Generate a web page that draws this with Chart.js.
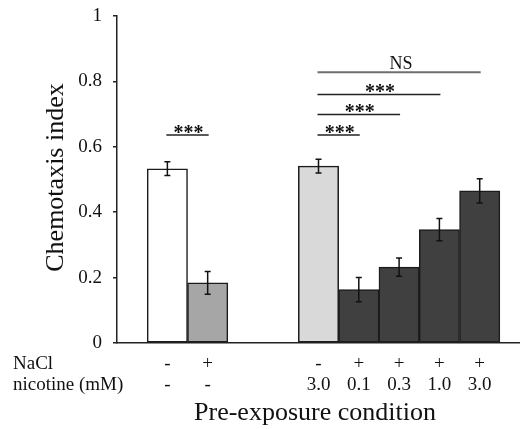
<!DOCTYPE html>
<html>
<head>
<meta charset="utf-8">
<script src="https://cdn.jsdelivr.net/npm/chart.js@4.4.1/dist/chart.umd.min.js"></script>
<style>
  html, body { margin: 0; padding: 0; background: #fff; }
  canvas { display: block; }
</style>
</head>
<body>
<canvas id="chart" width="520" height="429"></canvas>
<script>
// bars: NaCl-only group, then the nicotine group (x in slot units)
const xPos = [1.25, 2.25, 5, 6, 7, 8, 9];
const values = [0.533, 0.184, 0.541, 0.163, 0.232, 0.347, 0.465];
const errors = [0.021, 0.035, 0.021, 0.037, 0.028, 0.034, 0.037];
const naclRow = ['-', '+', '-', '+', '+', '+', '+'];
const nicotineRow = ['-', '-', '3.0', '0.1', '0.3', '1.0', '3.0'];
const yTicks = [0, 0.2, 0.4, 0.6, 0.8, 1];

// significance brackets (bar index from/to, height in chemotaxis index)
const bracketFrom = [0, 2, 2, 2, 2];
const bracketTo = [1, 3, 4, 5, 6];
const bracketY = [0.636, 0.636, 0.699, 0.760, 0.828];
const bracketText = ['***', '***', '***', '***', 'NS'];

const barColors = ['#ffffff', '#a6a6a6', '#d9d9d9', '#404040', '#404040', '#404040', '#404040'];
const SERIF = "'Liberation Serif', 'Times New Roman', serif";

const annotations = {
  id: 'annotations',
  afterDatasetsDraw(chart) {
    const ctx = chart.ctx;
    const xs = chart.scales.x, ys = chart.scales.y;
    const area = chart.chartArea;
    ctx.save();

    // error bars
    ctx.strokeStyle = '#111';
    ctx.lineWidth = 1.5;
    values.forEach((v, i) => {
      const x = xs.getPixelForValue(xPos[i]);
      const top = ys.getPixelForValue(v + errors[i]);
      const bot = ys.getPixelForValue(v - errors[i]);
      ctx.beginPath();
      ctx.moveTo(x, top); ctx.lineTo(x, bot);
      ctx.moveTo(x - 3, top); ctx.lineTo(x + 3, top);
      ctx.moveTo(x - 3, bot); ctx.lineTo(x + 3, bot);
      ctx.stroke();
    });

    // brackets
    bracketText.forEach((t, i) => {
      const x1 = xs.getPixelForValue(xPos[bracketFrom[i]]);
      const x2 = xs.getPixelForValue(xPos[bracketTo[i]]);
      const y = ys.getPixelForValue(bracketY[i]);
      const ns = t === 'NS';
      ctx.strokeStyle = ns ? '#6f6f6f' : '#222';
      ctx.lineWidth = ns ? 2.2 : 1.6;
      ctx.beginPath();
      ctx.moveTo(x1 - 1, y); ctx.lineTo(x2 + 1, y);
      ctx.stroke();
      ctx.fillStyle = '#111';
      ctx.textAlign = 'center';
      ctx.textBaseline = 'alphabetic';
      if (ns) {
        ctx.font = '18px ' + SERIF;
        ctx.fillText(t, (x1 + x2) / 2 + 2, y - 3.5);
      } else {
        ctx.font = 'bold 20px ' + SERIF;
        ctx.fillText(t, (x1 + x2) / 2 + 1, y + 4);
      }
    });

    // condition rows under the axis
    ctx.fillStyle = '#111';
    ctx.font = '19px ' + SERIF;
    ctx.textBaseline = 'alphabetic';
    ctx.textAlign = 'left';
    ctx.fillText('NaCl', 13, area.bottom + 26);
    ctx.fillText('nicotine (mM)', 13, area.bottom + 47);
    ctx.textAlign = 'center';
    xPos.forEach((p, i) => {
      const x = xs.getPixelForValue(p);
      ctx.fillText(naclRow[i], x, area.bottom + 26);
      ctx.fillText(nicotineRow[i], x, area.bottom + 47);
    });

    // axis titles
    ctx.font = '26px ' + SERIF;
    ctx.fillText('Pre-exposure condition', 315, 420);
    ctx.translate(63, (area.top + area.bottom) / 2 - 2);
    ctx.rotate(-Math.PI / 2);
    ctx.fillText('Chemotaxis index', 0, 0);
    ctx.restore();
  }
};

new Chart(document.getElementById('chart'), {
  type: 'bar',
  data: {
    datasets: [{
      data: xPos.map((x, i) => ({ x: x, y: values[i] })),
      backgroundColor: barColors,
      borderColor: '#1c1c1c',
      borderWidth: 1.5,
      borderSkipped: false,
      barPercentage: 1,
      categoryPercentage: 1
    }]
  },
  options: {
    responsive: false,
    animation: false,
    events: [],
    layout: { padding: { top: 16, right: 0, bottom: 0, left: 0 } },
    plugins: { legend: { display: false }, tooltip: { enabled: false }, title: { display: false } },
    scales: {
      x: {
        type: 'linear',
        offset: false,
        min: 0,
        max: 10,
        ticks: { display: false, stepSize: 1 },
        grid: { display: true, drawOnChartArea: false, drawTicks: false, offset: false },
        border: { display: true, color: '#222', width: 1.5 },
        afterFit(scale) { scale.height = 86; }
      },
      y: {
        min: 0,
        max: 1,
        afterBuildTicks(scale) { scale.ticks = yTicks.map(v => ({ value: v })); },
        ticks: {
          color: '#111',
          padding: 11,
          font: { family: SERIF, size: 19 },
          callback: v => String(v)
        },
        grid: { drawOnChartArea: false, drawTicks: true, tickLength: 4, color: '#222', lineWidth: 1.5 },
        border: { display: true, color: '#222', width: 1.5 },
        afterFit(scale) { scale.width = 117; scale.paddingTop = 0; scale.paddingBottom = 0; }
      }
    }
  },
  plugins: [annotations]
});
</script>
</body>
</html>
